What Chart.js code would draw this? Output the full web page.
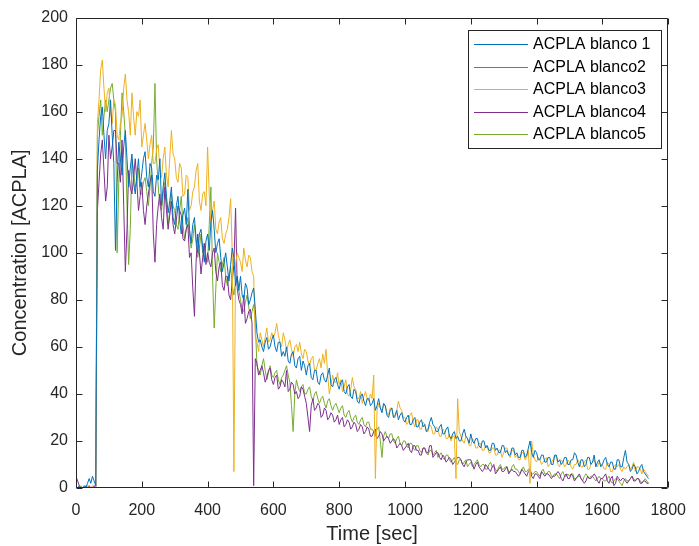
<!DOCTYPE html>
<html>
<head>
<meta charset="utf-8">
<script src="https://cdn.jsdelivr.net/npm/chart.js@4.4.1/dist/chart.umd.min.js"></script>
<style>
  html, body { margin: 0; padding: 0; background: #ffffff; }
  #wrap { width: 699px; height: 546px; }
</style>
</head>
<body>
<div id="wrap"><canvas id="c" width="699" height="546"></canvas></div>
<script>
// ---- data ----
const seriesNames = ["ACPLA blanco 1", "ACPLA blanco2", "ACPLA blanco3", "ACPLA blanco4", "ACPLA blanco5"];
const seriesColors = ["#0072BD", "#D95319", "#EDB120", "#7E2F8E", "#77AC30"];
const xTicks = [0, 200, 400, 600, 800, 1000, 1200, 1400, 1600, 1800];
const yTicks = [0, 20, 40, 60, 80, 100, 120, 140, 160, 180, 200];

const times = [
  0,5,10,15,20,25,30,35,40,45,50,55,60,65,70,75,80,85,90,95,
  100,105,110,115,120,125,130,135,140,145,150,155,160,165,170,175,180,185,190,195,
  200,205,210,215,220,225,230,235,240,245,250,255,260,265,270,275,280,285,290,295,
  300,305,310,315,320,325,330,335,340,345,350,355,360,365,370,375,380,385,390,395,
  400,405,410,415,420,425,430,435,440,445,450,455,460,465,470,475,480,485,490,495,
  500,505,510,515,520,525,530,535,540,545,550,555,560,565,570,575,580,585,590,595,
  600,605,610,615,620,625,630,635,640,645,650,655,660,665,670,675,680,685,690,695,
  700,705,710,715,720,725,730,735,740,745,750,755,760,765,770,775,780,785,790,795,
  800,805,810,815,820,825,830,835,840,845,850,855,860,865,870,875,880,885,890,895,
  900,905,910,915,920,925,930,935,940,945,950,955,960,965,970,975,980,985,990,995,
  1000,1005,1010,1015,1020,1025,1030,1035,1040,1045,1050,1055,1060,1065,1070,1075,1080,1085,1090,1095,
  1100,1105,1110,1115,1120,1125,1130,1135,1140,1145,1150,1155,1160,1165,1170,1175,1180,1185,1190,1195,
  1200,1205,1210,1215,1220,1225,1230,1235,1240,1245,1250,1255,1260,1265,1270,1275,1280,1285,1290,1295,
  1300,1305,1310,1315,1320,1325,1330,1335,1340,1345,1350,1355,1360,1365,1370,1375,1380,1385,1390,1395,
  1400,1405,1410,1415,1420,1425,1430,1435,1440,1445,1450,1455,1460,1465,1470,1475,1480,1485,1490,1495,
  1500,1505,1510,1515,1520,1525,1530,1535,1540,1545,1550,1555,1560,1565,1570,1575,1580,1585,1590,1595,
  1600,1605,1610,1615,1620,1625,1630,1635,1640,1645,1650,1655,1660,1665,1670,1675,1680,1685,1690,1695,
  1700,1705,1710,1715,1720,1725,1730,1735,1740
];

const blanco1 = [
  0,0,1,0,0,1,0,2,4,2,5,3,1,135,148,158,162,150,140,152,
  155,165,150,138,101,130,147,140,133,145,152,140,128,136,142,130,125,133,140,128,
  134,140,143,132,128,138,136,126,124,133,131,140,120,128,134,124,117,122,128,115,
  112,120,124,114,108,116,119,112,127,110,104,112,115,106,100,108,110,102,96,105,
  108,101,113,118,110,100,104,106,98,92,96,100,94,88,95,102,98,86,90,84,
  90,82,80,87,85,78,80,83,85,76,66,62,63,60,58,62,64,59,60,63,
  65,60,58,62,62,56,58,56,60,54,53,57,58,52,51,55,56,50,54,52,
  48,52,53,47,46,50,50,45,44,48,49,46,45,48,51,44,43,46,47,44,
  42,45,46,41,40,43,44,39,38,42,41,37,36,39,40,37,35,38,38,35,
  36,38,33,35,38,34,32,36,35,31,30,33,34,30,31,33,29,31,32,29,
  28,30,31,27,27,29,30,26,26,28,29,26,27,24,25,28,30,27,26,24,
  24,26,27,23,23,25,26,22,21,23,24,21,22,20,20,23,25,22,21,19,
  23,20,19,21,21,18,17,20,20,17,18,16,16,19,19,16,17,15,15,18,
  18,15,16,14,14,17,17,14,15,13,13,16,16,13,14,17,20,15,13,16,
  15,12,12,14,14,11,11,13,13,10,10,14,14,11,12,10,11,13,13,10,
  10,12,12,15,14,11,9,12,12,9,10,13,13,10,11,14,9,11,12,9,
  10,12,13,10,9,11,11,8,8,12,12,9,9,13,16,11,10,7,8,10,
  9,6,7,9,10,7,6,5,4
];

const blanco2 = [];

const blanco3 = [
  0,0,0,1,0,0,0,1,0,0,1,0,0,155,165,178,182,170,160,168,
  170,160,155,165,163,150,148,155,158,170,176,165,160,150,168,158,150,160,158,165,
  145,150,155,148,140,146,150,138,138,144,146,135,132,140,145,133,128,140,152,142,
  140,132,130,138,136,124,125,133,132,118,120,126,128,135,138,122,118,125,126,120,
  145,125,112,118,122,110,108,113,115,106,104,108,110,115,123,100,7,95,100,98,
  96,92,102,97,94,99,98,92,90,64,62,58,66,63,60,64,68,62,63,66,
  64,66,70,65,62,60,66,63,58,61,63,59,56,60,61,58,62,57,55,59,
  58,54,52,55,56,50,50,53,55,51,57,53,59,48,40,44,48,45,45,49,
  44,46,41,43,46,40,39,42,47,43,42,38,38,41,36,39,41,38,37,40,
  38,48,4,33,36,34,33,35,35,32,31,34,34,30,30,33,37,34,33,30,
  30,27,28,31,32,28,26,29,29,25,25,28,27,24,24,27,26,23,23,26,
  25,22,22,25,24,21,21,23,20,22,22,4,38,24,22,20,19,22,21,18,
  18,21,20,17,17,19,19,16,16,18,18,15,15,17,17,14,14,16,16,13,
  15,17,17,14,13,16,16,13,14,12,12,15,15,12,13,16,2,20,14,12,
  11,13,12,10,11,12,13,9,10,11,12,14,13,10,9,12,11,9,10,12,
  11,9,8,10,10,12,11,9,9,11,12,8,8,10,11,12,10,9,11,10,
  10,8,8,11,10,7,7,9,10,9,10,8,7,9,8,9,10,8,9,11,
  7,9,9,8,6,8,7,6,5
];

const blanco4 = [
  5,3,1,0,0,0,1,0,1,0,0,1,0,118,130,142,148,135,122,128,
  150,140,145,152,152,138,138,130,148,120,92,110,135,128,125,132,140,130,118,124,
  130,118,112,120,125,130,133,108,96,112,120,125,115,110,128,118,110,116,122,112,
  108,114,120,118,116,106,105,110,112,98,100,85,73,96,108,100,91,98,104,95,
  100,96,94,100,102,92,88,94,96,86,84,90,90,82,80,88,95,119,85,80,
  78,74,82,70,72,75,76,70,1,55,53,48,50,52,49,45,47,50,51,46,
  44,47,48,42,43,46,45,43,50,41,42,45,44,40,41,38,39,43,42,39,
  36,30,24,35,38,33,34,36,35,30,31,34,33,29,30,32,31,28,29,31,
  27,29,30,26,27,29,28,25,26,28,27,24,25,27,26,23,24,26,25,22,
  22,24,25,21,22,24,23,20,21,22,21,19,20,21,20,17,18,19,18,16,
  17,18,19,16,15,18,18,16,16,14,14,17,17,15,15,18,18,13,14,15,
  15,13,12,14,13,11,12,13,12,10,11,12,13,13,12,10,9,11,12,12,
  12,10,8,10,11,9,8,7,8,10,9,8,7,9,10,6,7,8,9,7,
  7,8,9,6,7,8,7,7,6,5,6,8,7,6,5,7,8,5,4,6,
  6,5,4,7,6,5,6,6,5,4,5,5,6,7,6,4,3,5,6,4,
  4,6,5,3,4,5,6,4,3,2,3,5,4,4,5,6,5,3,2,4,
  4,5,6,3,2,4,5,1,2,5,4,3,4,4,3,2,3,4,5,3,
  3,4,4,2,2,3,3,2,2
];

const blanco5 = [
  0,0,0,0,0,0,0,0,0,0,0,0,0,150,158,165,150,158,165,160,
  165,170,172,165,160,100,130,150,168,160,150,120,95,110,140,135,128,130,136,125,
  125,130,132,126,120,128,138,145,172,140,128,120,118,125,130,122,112,118,125,120,
  118,112,110,118,124,112,106,110,115,108,102,106,112,104,98,102,108,100,104,98,
  96,112,128,90,68,85,100,96,92,95,98,90,86,90,94,86,82,88,90,84,
  80,76,75,79,82,77,72,75,78,70,52,50,48,52,55,50,46,49,52,48,
  47,49,50,46,44,47,48,50,52,48,45,35,24,40,46,43,41,43,44,40,
  40,42,43,39,37,40,41,38,36,38,39,36,34,37,38,35,33,35,36,34,
  32,34,35,31,30,32,33,30,28,30,31,28,27,29,30,27,26,28,28,25,
  25,24,22,25,26,20,13,22,24,22,21,23,23,20,19,21,22,19,18,20,
  20,18,17,19,19,17,16,18,18,16,15,17,17,15,14,16,16,14,15,16,
  13,14,15,13,12,14,14,12,11,12,13,11,10,12,12,10,11,12,9,10,
  11,9,10,11,12,10,9,10,10,8,8,10,11,9,9,8,7,9,10,8,
  8,9,9,7,7,9,10,8,8,7,6,8,9,7,7,8,8,6,6,7,
  7,6,5,7,8,6,6,7,7,5,5,6,6,5,4,6,7,5,5,6,
  5,6,6,4,4,5,5,4,3,5,6,5,4,5,5,4,3,4,5,4,
  4,3,3,4,5,3,2,3,4,4,3,2,1,3,4,3,3,4,5,4,
  3,4,4,3,2,3,4,3,2
];

const seriesValues = [blanco1, blanco2, blanco3, blanco4, blanco5];

// ---- chart ----
const FONT = "'Liberation Sans', Arial, Helvetica, sans-serif";
const AX = "#262626";

const datasets = seriesValues.map((vals, k) => ({
  label: seriesNames[k],
  data: vals.map((v, i) => ({ x: times[i], y: v })),
  borderColor: seriesColors[k],
  backgroundColor: seriesColors[k],
  borderWidth: 1,
  pointRadius: 0,
  tension: 0,
  fill: false
}));

const boxPlugin = {
  id: 'matlabBox',
  afterDatasetsDraw(chart) {
    const ctx = chart.ctx;
    const a = chart.chartArea;
    const xs = chart.scales.x, ys = chart.scales.y;
    const L = Math.round(a.left) + 0.5, R = Math.round(a.right) - 0.5;
    const T = Math.round(a.top) + 0.5, B = Math.round(a.bottom) - 0.5;
    ctx.save();
    ctx.strokeStyle = AX;
    ctx.lineWidth = 1;
    ctx.beginPath();
    ctx.rect(L, T, R - L, B - T);
    const tl = 6;
    xTicks.forEach(v => {
      const px = Math.round(xs.getPixelForValue(v)) + 0.5;
      ctx.moveTo(px, B); ctx.lineTo(px, B - tl);
      ctx.moveTo(px, T); ctx.lineTo(px, T + tl);
    });
    yTicks.forEach(v => {
      const py = Math.round(ys.getPixelForValue(v)) + 0.5;
      ctx.moveTo(L, py); ctx.lineTo(L + tl, py);
      ctx.moveTo(R, py); ctx.lineTo(R - tl, py);
    });
    ctx.stroke();

    // legend box
    const bx = 468.5, by = 30.5, bw = 193, bh = 118;
    ctx.fillStyle = '#ffffff';
    ctx.fillRect(bx, by, bw, bh);
    ctx.strokeRect(bx, by, bw, bh);
    ctx.font = "16px " + FONT;
    ctx.textBaseline = 'middle';
    ctx.textAlign = 'left';
    chart.data.datasets.forEach((ds, i) => {
      const cy = 44 + i * 22.5;
      ctx.strokeStyle = ds.borderColor;
      ctx.lineWidth = 1;
      ctx.beginPath();
      ctx.moveTo(474, Math.round(cy) + 0.5);
      ctx.lineTo(528, Math.round(cy) + 0.5);
      ctx.stroke();
      ctx.fillStyle = '#000000';
      ctx.fillText(ds.label, 533, cy + 1);
    });
    ctx.restore();
  }
};

new Chart(document.getElementById('c'), {
  type: 'line',
  data: { datasets },
  options: {
    responsive: false,
    animation: false,
    events: [],
    layout: { padding: { left: 0, right: 25, top: 14, bottom: 0 } },
    plugins: { legend: { display: false }, tooltip: { enabled: false } },
    scales: {
      x: {
        type: 'linear', min: 0, max: 1800,
        afterBuildTicks(s) { s.ticks = xTicks.map(v => ({ value: v })); },
        afterFit(s) { s.height = 58; },
        grid: { display: false, drawTicks: false },
        border: { display: false },
        ticks: { color: AX, font: { family: FONT, size: 16 }, padding: 13, maxRotation: 0, autoSkip: false,
                 callback: v => String(v) },
        title: { display: true, text: 'Time [sec]', color: AX, font: { family: FONT, size: 20 }, padding: { top: 0, bottom: 0 } }
      },
      y: {
        type: 'linear', min: 0, max: 200,
        afterBuildTicks(s) { s.ticks = yTicks.map(v => ({ value: v })); },
        afterFit(s) { s.width = 76; },
        grid: { display: false, drawTicks: false },
        border: { display: false },
        ticks: { color: AX, font: { family: FONT, size: 16 }, padding: 8, autoSkip: false,
                 callback: v => String(v) },
        title: { display: true, text: 'Concentration [ACPLA]', color: AX, font: { family: FONT, size: 20 }, padding: { top: 8, bottom: 0 } }
      }
    }
  },
  plugins: [boxPlugin]
});
</script>
</body>
</html>
